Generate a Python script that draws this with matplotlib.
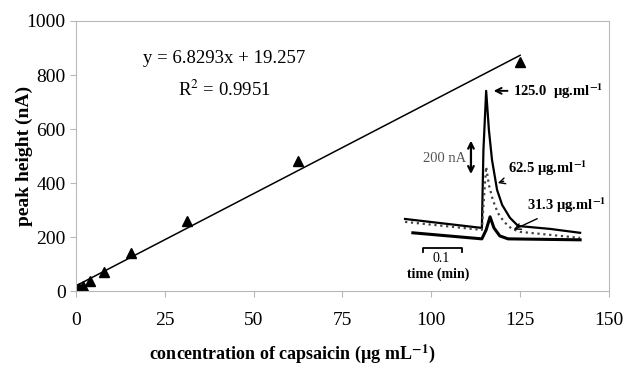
import matplotlib.pyplot as plt
import numpy as np

plt.rcParams['font.family'] = ['Liberation Serif', 'DejaVu Serif']
plt.rcParams['mathtext.fontset'] = 'stix'

# calibration data
conc = [0.49, 0.98, 1.95, 3.9, 7.8, 15.6, 31.3, 62.5, 125.0]
peak = [8, 12, 20, 38, 70, 140, 260, 480, 850]
slope, intercept = 6.8293, 19.257
xticks = [0, 25, 50, 75, 100, 125, 150]
yticks = [0, 200, 400, 600, 800, 1000]

# inset traces (time in min, current in nA)
t_125 = [0.013, 0.210, 0.214, 0.221, 0.228, 0.236, 0.249, 0.262, 0.282, 0.303, 0.385, 0.462]
i_125 = [133, 87, 487, 790, 590, 436, 282, 205, 139, 97, 82, 62]
t_62 = [0.013, 0.210, 0.215, 0.221, 0.228, 0.238, 0.251, 0.267, 0.287, 0.308, 0.462]
i_62 = [118, 77, 231, 400, 308, 231, 164, 118, 82, 67, 36]
t_31 = [0.033, 0.210, 0.221, 0.231, 0.241, 0.256, 0.277, 0.462]
i_31 = [62, 31, 77, 144, 87, 46, 31, 26]

fig = plt.figure(figsize=(6.27, 3.71), dpi=100)
ax = fig.add_axes([0.1212, 0.2156, 0.850, 0.7278])

xfit = np.array([0, conc[-1]])
ax.plot(xfit, slope * xfit + intercept, color='black', lw=1.1)
ax.plot(conc, peak, '^', color='black', markersize=7)

ax.set_xlim(0, 150)
ax.set_ylim(0, 1000)
ax.set_xticks(xticks)
ax.set_yticks(yticks)
for s in ax.spines.values():
    s.set_color('#b8b8b8')
ax.tick_params(axis='both', colors='#b8b8b8', labelcolor='black', labelsize=14, length=4)
ax.tick_params(axis='x', pad=11)
ax.set_xlabel('concentration of capsaicin (µg mL$^{\\mathbf{-1}}$)', fontsize=13, fontweight='bold')
ax.xaxis.set_label_coords(0.405, -0.19)
ax.set_ylabel('peak height (nA)', fontsize=14, fontweight='bold')
ax.yaxis.set_label_coords(-0.081, 0.5)

ax.text(0.278, 0.86, 'y = 6.8293x + 19.257', transform=ax.transAxes, ha='center', va='center', fontsize=13.5)
ax.text(0.278, 0.745, 'R$^2$ = 0.9951', transform=ax.transAxes, ha='center', va='center', fontsize=13.5)

# inset chromatogram
ins = fig.add_axes([400 / 627, 1 - 280 / 371, 200 / 627, 195 / 371])
ins.set_xlim(0, 0.513)
ins.set_ylim(-180, 820)
ins.axis('off')
ins.plot(t_125, i_125, color='black', lw=1.6)
ins.plot(t_62, i_62, color='#444444', lw=1.6, ls=':')
ins.plot(t_31, i_31, color='black', lw=2.2)

bold = dict(fontsize=10.5, fontweight='bold', va='center', ha='left')
ins.annotate('125.0  µg.ml$^{\\mathbf{-1}}$', xy=(0.233, 790), xytext=(0.29, 790),
             arrowprops=dict(arrowstyle='->', lw=1.4, color='black'), **bold)
ins.annotate('62.5 µg.ml$^{\\mathbf{-1}}$', xy=(0.244, 313), xytext=(0.277, 395),
             arrowprops=dict(arrowstyle='->', lw=1.0, color='black'), **bold)
ins.annotate('31.3 µg.ml$^{\\mathbf{-1}}$', xy=(0.285, 72), xytext=(0.326, 205),
             arrowprops=dict(arrowstyle='->', lw=1.0, color='black'), **bold)

# 200 nA bar
ins.annotate('', xy=(0.182, 549), xytext=(0.182, 349),
             arrowprops=dict(arrowstyle='<->', lw=1.6, color='black'))
ins.text(0.169, 441, '200 nA', fontsize=10.5, color='#555555', ha='right', va='center')

# 0.1 min bar
ins.plot([0.059, 0.059, 0.159, 0.159], [-35, -15, -15, -35], color='black', lw=1.3)
ins.text(0.105, -72, '0.1', fontsize=10, ha='center', va='center')
ins.text(0.098, -150, 'time (min)', fontsize=10, fontweight='bold', ha='center', va='center')

fig.savefig('out.png', dpi=100)
